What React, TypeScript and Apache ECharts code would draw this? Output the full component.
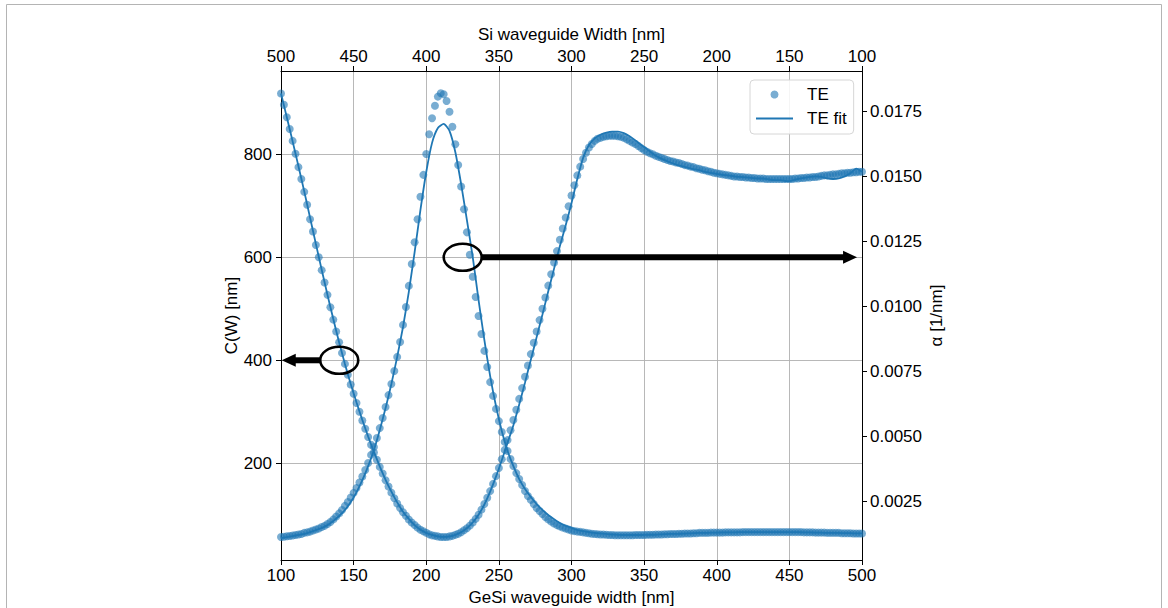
import React, { useEffect, useRef } from "react";
import * as echarts from "echarts";

// ---- sampling grids (nm, GeSi width) ----
const DOT_START_NM = 100;
const DOT_STEP_NM = 2;
const FIT_START_NM = 100;
const FIT_STEP_NM = 4;

// ---- measured points: C(W) [nm], left axis, 100..500 nm every 2 nm ----
const dotC = [
  918, 896, 872, 849, 826, 801, 775, 752, 727, 702,
  674, 650, 624, 600, 575, 551, 527, 503, 479, 456,
  435, 414, 393, 372, 353, 335, 317, 300, 283, 267,
  251, 236, 221, 207, 193, 180, 167, 155, 143, 132,
  122, 113, 105, 98, 91, 85, 80, 75, 71, 68,
  65, 62, 60, 59, 58, 57, 57, 57, 58, 59,
  61, 63, 66, 70, 74, 79, 85, 92, 100, 110,
  121, 133, 146, 160, 175, 191, 208, 226, 245, 264,
  284, 304, 325, 346, 368, 390, 412, 434, 456, 478,
  500, 522, 545, 567, 590, 612, 634, 656, 677, 699,
  720, 740, 759, 776, 791, 803, 813, 820, 826, 830,
  832, 834, 835, 836, 836, 836, 835, 834, 832, 829,
  826, 823, 820, 816, 812, 808, 805, 802, 800, 797,
  795, 793, 791, 789, 787, 786, 784, 783, 781, 779,
  778, 776, 775, 773, 772, 770, 769, 767, 766, 764,
  763, 762, 761, 760, 759, 758, 757, 757, 756, 756,
  755, 755, 754, 754, 753, 753, 753, 752, 752, 752,
  752, 752, 752, 752, 752, 752, 752, 753, 753, 754,
  754, 755, 755, 756, 756, 757, 758, 759, 759, 760,
  761, 761, 762, 763, 763, 764, 764, 765, 765, 766,
  766,
];

// ---- measured points: alpha [1/nm], right axis, 100..500 nm every 2 nm ----
const dotAlpha = [
  0.00114, 0.00115, 0.00117, 0.00118, 0.0012, 0.00122, 0.00124, 0.00126, 0.0013, 0.00132,
  0.00135, 0.00139, 0.00143, 0.00147, 0.00153, 0.00157, 0.00164, 0.00172, 0.00182, 0.00193,
  0.00205, 0.00218, 0.00234, 0.00249, 0.00266, 0.00284, 0.00303, 0.00324, 0.00347, 0.00372,
  0.00399, 0.0043, 0.0046, 0.00495, 0.00533, 0.00572, 0.00614, 0.0066, 0.00703, 0.00753,
  0.00807, 0.00864, 0.0093, 0.00999, 0.0108, 0.01164, 0.01248, 0.01336, 0.01423, 0.01507,
  0.01587, 0.01663, 0.01725, 0.01773, 0.01808, 0.01821, 0.01817, 0.01791, 0.0175, 0.01692,
  0.01625, 0.01545, 0.01462, 0.01375, 0.01286, 0.012, 0.01115, 0.01037, 0.00964, 0.00895,
  0.0083, 0.00768, 0.0071, 0.00657, 0.00607, 0.0056, 0.00518, 0.0048, 0.00445, 0.00414,
  0.00387, 0.0036, 0.00337, 0.00314, 0.00291, 0.00272, 0.00257, 0.00241, 0.00226, 0.00214,
  0.00203, 0.00191, 0.00182, 0.00174, 0.00166, 0.0016, 0.00155, 0.00151, 0.00147, 0.00143,
  0.00139, 0.00137, 0.00135, 0.00134, 0.00132, 0.0013, 0.00129, 0.00127, 0.00126, 0.00125,
  0.00124, 0.00124, 0.00123, 0.00122, 0.00122, 0.00121, 0.00121, 0.00121, 0.00121, 0.00121,
  0.00121, 0.00121, 0.00122, 0.00122, 0.00122, 0.00122, 0.00123, 0.00123, 0.00123, 0.00124,
  0.00124, 0.00124, 0.00125, 0.00125, 0.00126, 0.00126, 0.00126, 0.00127, 0.00127, 0.00128,
  0.00128, 0.00128, 0.00129, 0.00129, 0.0013, 0.0013, 0.0013, 0.0013, 0.00131, 0.00131,
  0.00131, 0.00131, 0.00131, 0.00132, 0.00132, 0.00132, 0.00132, 0.00132, 0.00132, 0.00133,
  0.00133, 0.00133, 0.00133, 0.00133, 0.00133, 0.00133, 0.00133, 0.00133, 0.00133, 0.00133,
  0.00133, 0.00133, 0.00133, 0.00133, 0.00133, 0.00133, 0.00133, 0.00133, 0.00133, 0.00133,
  0.00132, 0.00132, 0.00132, 0.00132, 0.00131, 0.00131, 0.00131, 0.00131, 0.0013, 0.0013,
  0.0013, 0.0013, 0.0013, 0.00129, 0.00129, 0.00129, 0.00129, 0.00128, 0.00128, 0.00128,
  0.00128,
];

// ---- fit curves, 100..500 nm every 4 nm ----
const fitC = [
  918, 872, 825, 777, 728, 677, 626, 576, 527, 480,
  435, 393, 354, 318, 284, 252, 222, 194, 168, 145,
  124, 106, 92, 80, 71, 65, 61, 58, 57, 58,
  61, 66, 74, 85, 100, 120, 145, 174, 206, 240,
  274, 314, 357, 401, 445, 489, 534, 578, 622, 662,
  705, 752, 793, 818, 831, 838, 842, 844, 844, 841,
  835, 827, 818, 810, 801, 794, 789, 784, 780, 777,
  774, 771, 769, 766, 764, 762, 760, 759, 757, 756,
  755, 754, 753, 753, 751, 750, 750, 748, 749, 752,
  754, 756, 757, 756, 753, 752, 753, 757, 763, 772,
  766,
];

const fitAlpha = [
  0.0011, 0.00114, 0.00118, 0.00122, 0.00126, 0.00133, 0.00141, 0.00149, 0.0016, 0.00176,
  0.00195, 0.00218, 0.00249, 0.00287, 0.00333, 0.00387, 0.00449, 0.00526, 0.0061, 0.00703,
  0.00807, 0.00922, 0.01057, 0.0121, 0.01372, 0.01518, 0.0163, 0.01687, 0.01703, 0.01676,
  0.01595, 0.01472, 0.01333, 0.01191, 0.01026, 0.00872, 0.00733, 0.00618, 0.00522, 0.00445,
  0.00387, 0.00337, 0.00299, 0.00268, 0.00241, 0.00218, 0.00199, 0.00183, 0.00168, 0.00157,
  0.00149, 0.00141, 0.00137, 0.00133, 0.0013, 0.00128, 0.00126, 0.00124, 0.00123, 0.00122,
  0.00122, 0.00122, 0.00122, 0.00123, 0.00123, 0.00124, 0.00125, 0.00126, 0.00126, 0.00127,
  0.00128, 0.00129, 0.0013, 0.0013, 0.00131, 0.00131, 0.00132, 0.00132, 0.00132, 0.00133,
  0.00133, 0.00133, 0.00133, 0.00133, 0.00133, 0.00133, 0.00133, 0.00133, 0.00133, 0.00133,
  0.00132, 0.00132, 0.00131, 0.00131, 0.0013, 0.0013, 0.0013, 0.00129, 0.00129, 0.00128,
  0.00128,
];

// ---- axes ----
const xRange = [100, 500];
const xInterval = 50;
const leftRange = [12.2, 961.7];
const leftTicks = [200, 400, 600, 800];
const rightRange = [0.000258, 0.019065];
const rightTicks = [0.0025, 0.005, 0.0075, 0.01, 0.0125, 0.015, 0.0175];

// ---- annotation anchors (data coords) ----
const leftMark = { x: 140.1, y: 400, tipX: 100.5 };
const rightMark = { x: 225.1, y: 0.0119, tipX: 496.6 };

const FONT = "'Liberation Sans', Arial, Helvetica, sans-serif";
const BLUE = "#1f77b4";

function pairs(start: number, step: number, values: number[]) {
  return values.map((v, i) => [start + i * step, v]);
}

export default function App() {
  const ref = useRef<HTMLDivElement>(null);

  useEffect(() => {
    if (!ref.current) return;
    const chart = echarts.init(ref.current, null, { renderer: "svg" });

    const axisLine = { show: true, lineStyle: { color: "#000", width: 1 } };
    const axisTick = { show: true, inside: false, length: 5, lineStyle: { color: "#000", width: 1 } };
    const labelStyle = { color: "#000", fontSize: 17, fontFamily: FONT };
    const nameStyle = { color: "#000", fontSize: 17, fontFamily: FONT };

    const option: any = {
      animation: false,
      backgroundColor: "#fff",
      grid: { left: 281, right: 306, top: 71, bottom: 48, containLabel: false, outerBoundsMode: "none" },
      legend: {
        data: [
          { name: "TE", icon: "circle" },
          { name: "TE fit", icon: "path://M0,0L37,0L37,1.8L0,1.8Z" },
        ],
        symbolKeepAspect: true,
        orient: "vertical",
        left: 750,
        top: 80,
        itemWidth: 37,
        itemHeight: 8,
        itemGap: 5,
        padding: [5, 7, 6, 6],
        backgroundColor: "rgba(255,255,255,0.85)",
        borderColor: "#d6d6d6",
        borderWidth: 1,
        borderRadius: 4,
        textStyle: { ...labelStyle, lineHeight: 19, padding: [0, 0, 0, 9] },
      },
      xAxis: [
        {
          type: "value",
          position: "bottom",
          min: xRange[0],
          max: xRange[1],
          interval: xInterval,
          axisLine,
          axisTick,
          axisLabel: { ...labelStyle, margin: 7, showMinLabel: true, showMaxLabel: true },
          splitLine: { show: true, lineStyle: { color: "#b0b0b0", width: 0.9 } },
          name: "GeSi waveguide width [nm]",
          nameLocation: "middle",
          nameGap: 19,
          nameTextStyle: nameStyle,
        },
        {
          type: "value",
          position: "top",
          min: xRange[0],
          max: xRange[1],
          interval: xInterval,
          inverse: true,
          axisLine,
          axisTick,
          axisLabel: { ...labelStyle, margin: 6, showMinLabel: true, showMaxLabel: true },
          splitLine: { show: false },
          name: "Si waveguide Width [nm]",
          nameLocation: "middle",
          nameGap: 17,
          nameTextStyle: nameStyle,
        },
      ],
      yAxis: [
        {
          type: "value",
          position: "left",
          min: leftRange[0],
          max: leftRange[1],
          axisLine,
          axisTick: { ...axisTick, customValues: leftTicks },
          axisLabel: { ...labelStyle, margin: 9, customValues: leftTicks },
          splitLine: { show: true, lineStyle: { color: "#b0b0b0", width: 0.9 } },
          name: "C(W) [nm]",
          nameLocation: "middle",
          nameRotate: 90,
          nameGap: 41,
          nameTextStyle: nameStyle,
        },
        {
          type: "value",
          position: "right",
          min: rightRange[0],
          max: rightRange[1],
          axisLine,
          axisTick: { ...axisTick, customValues: rightTicks },
          axisLabel: {
            ...labelStyle,
            margin: 8,
            customValues: rightTicks,
            formatter: (v: number) => v.toFixed(4),
          },
          splitLine: { show: false },
          name: "α [1/nm]",
          nameLocation: "middle",
          nameRotate: 90,
          nameGap: 66,
          nameTextStyle: nameStyle,
        },
      ],
      series: [
        {
          name: "TE",
          type: "scatter",
          xAxisIndex: 0,
          yAxisIndex: 0,
          data: pairs(DOT_START_NM, DOT_STEP_NM, dotC),
          symbol: "circle",
          symbolSize: 8,
          itemStyle: { color: BLUE, opacity: 0.6 },
          z: 2,
        },
        {
          name: "TE",
          type: "scatter",
          xAxisIndex: 0,
          yAxisIndex: 1,
          data: pairs(DOT_START_NM, DOT_STEP_NM, dotAlpha),
          symbol: "circle",
          symbolSize: 8,
          itemStyle: { color: BLUE, opacity: 0.6 },
          z: 2,
        },
        {
          name: "TE fit",
          type: "line",
          xAxisIndex: 0,
          yAxisIndex: 0,
          data: pairs(FIT_START_NM, FIT_STEP_NM, fitC),
          symbol: "none",
          showSymbol: false,
          smooth: 0.2,
          lineStyle: { color: BLUE, width: 1.8 },
          itemStyle: { color: BLUE },
          z: 3,
        },
        {
          name: "TE fit",
          type: "line",
          xAxisIndex: 0,
          yAxisIndex: 1,
          data: pairs(FIT_START_NM, FIT_STEP_NM, fitAlpha),
          symbol: "none",
          showSymbol: false,
          smooth: 0.2,
          lineStyle: { color: BLUE, width: 1.8 },
          itemStyle: { color: BLUE },
          z: 3,
        },
      ],
    };

    chart.setOption(option);

    // annotations anchored to data coordinates
    const lp = chart.convertToPixel({ xAxisIndex: 0, yAxisIndex: 0 }, [leftMark.x, leftMark.y]) as number[];
    const lTip = chart.convertToPixel({ xAxisIndex: 0 }, leftMark.tipX) as number;
    const rp = chart.convertToPixel({ xAxisIndex: 0, yAxisIndex: 1 }, [rightMark.x, rightMark.y]) as number[];
    const rTip = chart.convertToPixel({ xAxisIndex: 0 }, rightMark.tipX) as number;

    const rx = 19;
    const ry = 13.5;
    const head = 14;
    const headH = 6.5;
    const black = { stroke: "#000", fill: "none", lineWidth: 2.6 };

    chart.setOption({
      graphic: [
        {
          type: "rect",
          silent: true,
          shape: { x: 6.5, y: 4.5, width: 1155, height: 640 },
          style: { fill: "none", stroke: "#b4b4b4", lineWidth: 1 },
          z: 0,
        },
        { type: "ellipse", shape: { cx: lp[0], cy: lp[1], rx, ry }, style: black, z: 100 },
        {
          type: "line",
          shape: { x1: lp[0] - rx, y1: lp[1], x2: lTip + head - 1, y2: lp[1] },
          style: { stroke: "#000", lineWidth: 6 },
          z: 100,
        },
        {
          type: "polygon",
          shape: { points: [[lTip, lp[1]], [lTip + head, lp[1] - headH], [lTip + head, lp[1] + headH]] },
          style: { fill: "#000" },
          z: 100,
        },
        { type: "ellipse", shape: { cx: rp[0], cy: rp[1], rx, ry }, style: black, z: 100 },
        {
          type: "line",
          shape: { x1: rp[0] + rx, y1: rp[1], x2: rTip - head + 1, y2: rp[1] },
          style: { stroke: "#000", lineWidth: 6 },
          z: 100,
        },
        {
          type: "polygon",
          shape: { points: [[rTip, rp[1]], [rTip - head, rp[1] - headH], [rTip - head, rp[1] + headH]] },
          style: { fill: "#000" },
          z: 100,
        },
      ],
    });

    return () => chart.dispose();
  }, []);

  return (
    <div
      ref={ref}
      style={{ position: "absolute", left: 0, top: 0, width: 1168, height: 608, background: "#fff" }}
    />
  );
}
